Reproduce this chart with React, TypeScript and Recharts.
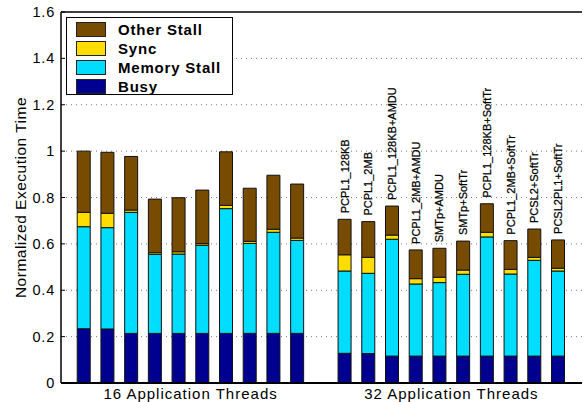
import {
  Bar,
  BarChart,
  CartesianGrid,
  LabelList,
  ReferenceLine,
  XAxis,
  YAxis,
} from "recharts"

// 16 application threads (10 runs), then 32 application threads (10 configs)
const busy16 = [0.234, 0.233, 0.214, 0.214, 0.214, 0.214, 0.214, 0.214, 0.214, 0.214]
const mem16 = [0.44, 0.437, 0.522, 0.341, 0.342, 0.38, 0.538, 0.388, 0.436, 0.401]
const sync16 = [0.062, 0.062, 0.01, 0.007, 0.01, 0.007, 0.014, 0.009, 0.013, 0.01]
const other16 = [0.264, 0.263, 0.231, 0.231, 0.233, 0.231, 0.231, 0.229, 0.233, 0.233]

const labels32 = [
  "PCPL1_128KB",
  "PCPL1_2MB",
  "PCPL1_128KB+AMDU",
  "PCPL1_2MB+AMDU",
  "SMTp+AMDU",
  "SMTp+SoftTr",
  "PCPL1_128KB+SoftTr",
  "PCPL1_2MB+SoftTr",
  "PCSL2+SoftTr",
  "PCSL2PL1+SoftTr",
]
const busy32 = [0.128, 0.127, 0.116, 0.116, 0.116, 0.116, 0.116, 0.116, 0.116, 0.116]
const mem32 = [0.355, 0.346, 0.504, 0.311, 0.317, 0.353, 0.514, 0.354, 0.413, 0.367]
const sync32 = [0.07, 0.069, 0.018, 0.023, 0.023, 0.018, 0.02, 0.02, 0.013, 0.012]
const other32 = [0.153, 0.154, 0.125, 0.124, 0.125, 0.125, 0.123, 0.124, 0.122, 0.122]

const groupNames = ["16 Application Threads", "32 Application Threads"]
const yTicks = [0, 0.2, 0.4, 0.6, 0.8, 1, 1.2, 1.4, 1.6]

const COLORS = {
  busy: "#000090",
  mem: "#00DDFF",
  sync: "#FFDD00",
  other: "#774C00",
}

const legendItems = [
  { name: "Other Stall", color: COLORS.other },
  { name: "Sync", color: COLORS.sync },
  { name: "Memory Stall", color: COLORS.mem },
  { name: "Busy", color: COLORS.busy },
]

const FONT = "'Liberation Sans', Arial, Helvetica, sans-serif"

type Row = {
  key: string
  label: string
  busy?: number
  mem?: number
  sync?: number
  other?: number
}

const data: Row[] = [
  ...busy16.map((b, i) => ({
    key: `a${i}`,
    label: "",
    busy: b,
    mem: mem16[i],
    sync: sync16[i],
    other: other16[i],
  })),
  { key: "gap", label: "" },
  ...busy32.map((b, i) => ({
    key: `b${i}`,
    label: labels32[i],
    busy: b,
    mem: mem32[i],
    sync: sync32[i],
    other: other32[i],
  })),
]

// group title sits under the middle of each group (between bars 5 and 6)
function GroupTick(props: any) {
  const { x, y, index } = props
  let name = ""
  if (index === 4) name = groupNames[0]
  if (index === 15) name = groupNames[1]
  if (!name) return null
  const slot = 23.7
  return (
    <text
      x={x + slot / 2}
      y={y + 8}
      textAnchor="middle"
      fontFamily={FONT}
      fontSize={15}
      letterSpacing={1}
      fill="#000"
    >
      {name}
    </text>
  )
}

function LeftTick(props: any) {
  const { x, y, payload } = props
  return (
    <g>
      <line x1={x + 6} x2={x + 10} y1={y} y2={y} stroke="#000" />
      <text
        x={x}
        y={y}
        textAnchor="end"
        dominantBaseline="central"
        fontFamily={FONT}
        fontSize={14.5}
        letterSpacing={0.8}
        fill="#000"
      >
        {payload.value}
      </text>
    </g>
  )
}

function TopLabel(props: any) {
  const { x, y, width, value } = props
  if (!value) return null
  const cx = x + width / 2
  const cy = y - 6
  return (
    <text
      x={cx}
      y={cy}
      transform={`rotate(-90 ${cx} ${cy})`}
      textAnchor="start"
      dominantBaseline="central"
      fontFamily={FONT}
      fontSize={11}
      stroke="#000"
      strokeWidth={0.25}
      fill="#000"
    >
      {value}
    </text>
  )
}

function LegendBox() {
  return (
    <div
      style={{
        position: "absolute",
        left: 66,
        top: 17,
        width: 165,
        height: 76,
        border: "1.5px solid #000",
        background: "#fff",
        fontFamily: FONT,
      }}
    >
      {legendItems.map((it, i) => (
        <div
          key={it.name}
          style={{
            position: "absolute",
            left: 9,
            top: 4 + i * 19,
            height: 15,
            display: "flex",
            alignItems: "center",
          }}
        >
          <span
            style={{
              display: "inline-block",
              width: 28,
              height: 13,
              background: it.color,
              border: "1px solid #222",
            }}
          />
          <span
            style={{
              marginLeft: 12,
              fontSize: 15,
              fontWeight: "bold",
              letterSpacing: 0.8,
              color: "#000",
              lineHeight: "15px",
            }}
          >
            {it.name}
          </span>
        </div>
      ))}
    </div>
  )
}

export default function App() {
  return (
    <div style={{ position: "absolute", left: 0, top: 0, width: 584, height: 402, background: "#fff" }}>
      <BarChart
        width={584}
        height={402}
        data={data}
        margin={{ top: 12, right: 2, left: 0, bottom: 0 }}
        barCategoryGap="22%"
      >
        <CartesianGrid
          vertical={false}
          strokeDasharray="1 4"
          stroke="#777"
          horizontalValues={[0.2, 0.4, 0.6, 0.8, 1, 1.2, 1.4]}
        />
        <XAxis
          dataKey="key"
          height={19}
          padding={{ left: 11, right: 12 }}
          axisLine={{ stroke: "#000", strokeWidth: 2 }}
          tickLine={false}
          tick={<GroupTick />}
          interval={0}
        />
        <YAxis
          width={61}
          domain={[0, 1.6]}
          ticks={yTicks}
          allowDataOverflow
          axisLine={{ stroke: "#000", strokeWidth: 1.5 }}
          tickLine={false}
          tickSize={0}
          tickMargin={6}
          tick={<LeftTick />}
          label={{
            value: "Normalized Execution Time",
            angle: -90,
            position: "insideLeft",
            offset: 20,
            style: {
              textAnchor: "middle",
              fontFamily: FONT,
              fontSize: 15.5,
              letterSpacing: 0.5,
              fill: "#000",
            },
          }}
        />
        <YAxis
          yAxisId="r"
          orientation="right"
          width={0}
          domain={[0, 1.6]}
          ticks={yTicks}
          mirror
          tick={false}
          tickSize={4}
          tickLine={{ stroke: "#000" }}
          axisLine={{ stroke: "#000", strokeWidth: 1.5 }}
        />
        <ReferenceLine y={1.6} stroke="#000" strokeWidth={1.5} />
        <Bar dataKey="busy" name="Busy" stackId="s" fill={COLORS.busy} stroke="#111" strokeWidth={1} isAnimationActive={false} />
        <Bar dataKey="mem" name="Memory Stall" stackId="s" fill={COLORS.mem} stroke="#111" strokeWidth={1} isAnimationActive={false} />
        <Bar dataKey="sync" name="Sync" stackId="s" fill={COLORS.sync} stroke="#111" strokeWidth={1} isAnimationActive={false} />
        <Bar dataKey="other" name="Other Stall" stackId="s" fill={COLORS.other} stroke="#111" strokeWidth={1} isAnimationActive={false}>
          <LabelList dataKey="label" content={<TopLabel />} />
        </Bar>
      </BarChart>
      <LegendBox />
    </div>
  )
}
